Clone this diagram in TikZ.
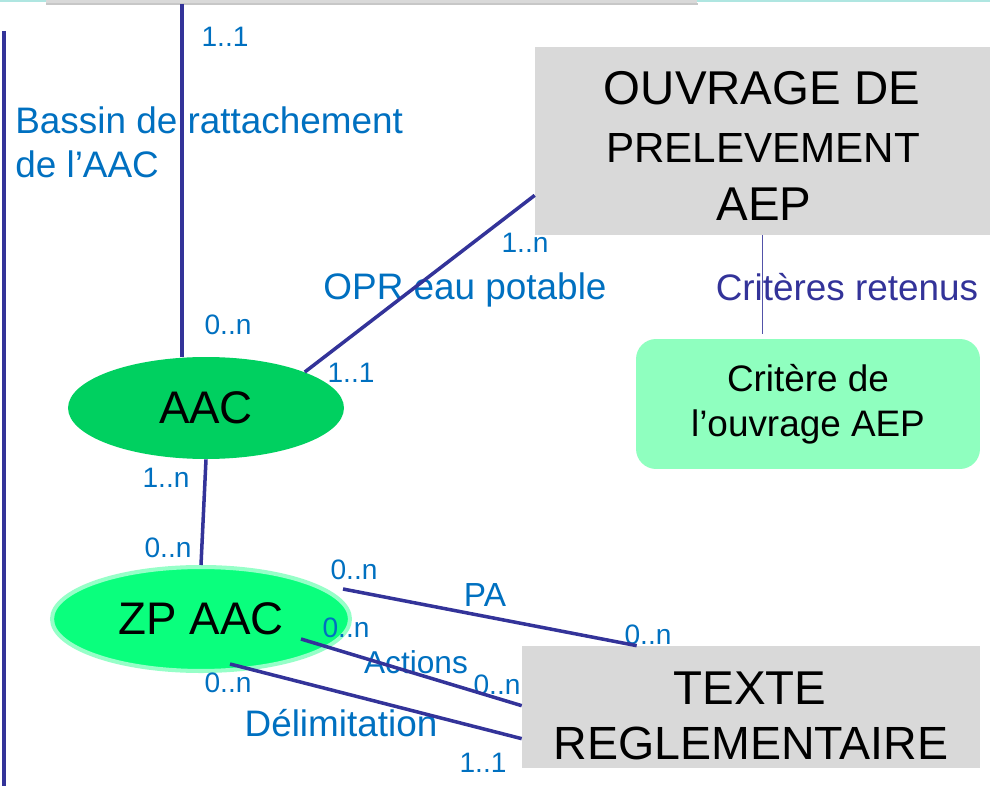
\documentclass[tikz,border=0pt]{standalone}
\usepackage{fontspec}
\setmainfont{Liberation Sans}
\usetikzlibrary{calc,shapes.geometric}
\definecolor{lnc}{RGB}{51,51,153}
\definecolor{lbl}{RGB}{0,112,192}
\definecolor{boxg}{RGB}{217,217,217}
\definecolor{aacg}{RGB}{0,208,96}
\definecolor{zpg}{RGB}{10,255,125}
\definecolor{zpb}{RGB}{150,255,200}
\definecolor{critg}{RGB}{143,255,191}
\definecolor{topline}{RGB}{175,230,225}
\begin{document}
\begin{tikzpicture}[x=0.02cm,y=-0.02cm,
  card/.style={text=lbl,font=\fontsize{16}{19}\selectfont,inner sep=0pt},
  rel/.style={text=lbl,font=\fontsize{21}{25}\selectfont,inner sep=0pt},
  entity/.style={fill=boxg,draw=none,inner sep=0pt},
  etext/.style={inner sep=0pt,font=\fontsize{27}{33}\selectfont},
  conn/.style={draw=lnc,line width=2pt},
  thinconn/.style={draw=lnc!85,line width=0.6pt}]
\useasboundingbox (0,0) rectangle (990,786);
\clip (0,0) rectangle (990,786);
% top edge
\draw[topline,line width=1.2pt] (0,1) -- (990,1);
\node[fill=boxg,inner sep=0pt,minimum width=13.02cm,minimum height=1cm,anchor=south west] (top) at (46,4) {};
\draw[black!22,line width=0.8pt] (top.south west) -- (top.south east);
% entities
\node[entity,minimum width=9.1cm,minimum height=3.76cm] (ouv) at (762.5,141) {};
\node[etext] (ouv1) at (762,88) {OUVRAGE DE};
\node[etext,font=\fontsize{24}{28}\selectfont] (ouv2) at (763,148) {PRELEVEMENT};
\node[etext] (ouv3) at (764,204) {AEP};
\node[entity,minimum width=9.16cm,minimum height=2.44cm] (txt) at (751,707) {};
\node[etext] (txt1) at (750,688) {TEXTE};
\node[etext,font=\fontsize{26.5}{31}\selectfont] (txt2) at (751,743) {REGLEMENTAIRE};
\node[fill=critg,rounded corners=0.4cm,inner sep=0pt,minimum width=6.88cm,minimum height=2.6cm,align=center,font=\fontsize{21}{25.5}\selectfont] (crit) at (808,404) {Critère de\\l’ouvrage AEP};
\node[ellipse,fill=aacg,inner sep=0pt,minimum width=5.52cm,minimum height=2.04cm,font=\fontsize{26}{30}\selectfont] (aac) at (206,408) {AAC};
\node[ellipse,fill=zpg,draw=zpb,line width=2.3pt,inner sep=0pt,minimum width=5.96cm,minimum height=2.08cm,font=\fontsize{26}{30}\selectfont] (zp) at (201,619) {ZP AAC};
% labels
\node[card] (c1) at (225,37) {1..1};
\node[rel,align=left,anchor=west] (bassin) at (15,142) {Bassin de rattachement\\de l’AAC};
\node[card] (c2) at (228,325) {0..n};
\node[card] (c3) at (525,243) {1..n};
\node[rel] (opr) at (465,290) {OPR eau potable};
\node[card] (c4) at (351,373) {1..1};
\node[rel,text=lnc] (crt) at (847,287) {Critères retenus};
\node[card] (c5) at (166,478) {1..n};
\node[card] (c6) at (168,548) {0..n};
\node[card] (c7) at (354,570) {0..n};
\node[rel,font=\fontsize{19}{22}\selectfont] (pa) at (485,595) {PA};
\node[card] (c8) at (648,635) {0..n};
\node[card] (c9) at (346,628) {0..n};
\node[rel,font=\fontsize{18}{21}\selectfont] (act) at (416,662) {Actions};
\node[card] (c10) at (497,685) {0..n};
\node[card] (c11) at (228,683) {0..n};
\node[rel] (delim) at (341,723) {Délimitation};
\node[card] (c12) at (483,763) {1..1};
% connectors
\coordinate (l1) at (4,31);
\coordinate (l2) at (4,790);
\draw[conn] (l1) -- (l2);
\coordinate (t1) at (182,4);
\draw[conn] (t1) -- (t1 |- aac.north);
\draw[conn] (aac.20) -- ($(ouv.south west)+(0,-40)$);
\draw[conn] (aac.south) -- (zp.north);
\draw[conn] ($(zp.center)+(142,-30)$) -- ($(txt.north west)+(115,0)$);
\draw[conn] ($(zp.center)+(100,20)$) -- ($(txt.north west)+(0,60)$);
\draw[conn] ($(zp.center)+(29,45)$) -- ($(txt.north west)+(0,93)$);
\draw[thinconn] (ouv.south) -- ($(ouv.south |- crit.north)+(0,-5)$);
\end{tikzpicture}
\end{document}
